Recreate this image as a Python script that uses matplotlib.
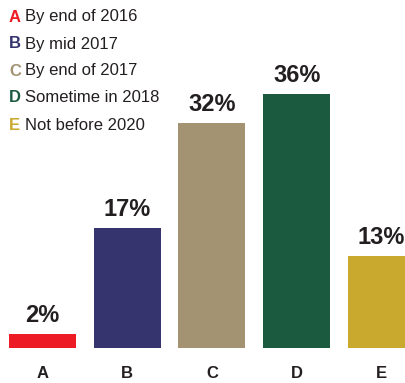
import matplotlib
matplotlib.use('Agg')
import matplotlib.pyplot as plt

# Werte und Beschriftungen
categories = ['A', 'B', 'C', 'D', 'E']
values = [2, 17, 32, 36, 13]
legend_texts = ['By end of 2016', 'By mid 2017', 'By end of 2017', 'Sometime in 2018', 'Not before 2020']
colors = ['#ED1C24', '#35346E', '#A39372', '#1C5A40', '#C9A92E']

plt.rcParams['font.family'] = ['Liberation Sans', 'DejaVu Sans']
ink = '#231F20'

W, H = 405, 383
fig = plt.figure(figsize=(W / 100, H / 100), dpi=100)
ax = fig.add_axes([0, 35 / H, 1, 348 / H])

x = range(len(categories))
ax.bar(x, values, width=0.79, color=colors)
ax.set_xlim(-0.5, 4.277)
ax.set_ylim(0, 49.4)

# Prozentwerte ueber den Balken
for i, v in enumerate(values):
    ax.annotate(f'{v}%', (i, v), xytext=(0, 5), textcoords='offset points',
                ha='center', va='bottom', fontsize=17, fontweight='bold', color=ink)

for s in ax.spines.values():
    s.set_visible(False)
ax.set_yticks([])
ax.set_xticks(list(x))
ax.set_xticklabels(categories, fontsize=12, fontweight='bold', color=ink)
ax.tick_params(axis='x', length=0, pad=13)

# Legende oben links
for k, (cat, txt, c) in enumerate(zip(categories, legend_texts, colors)):
    yy = 1 - (17 + 27 * k) / H
    fig.text(9 / W, yy, cat, color=c, fontsize=12, fontweight='bold', va='center', ha='left')
    fig.text(25 / W, yy, txt, color=ink, fontsize=12, va='center', ha='left')

fig.savefig('out.png', dpi=100)
